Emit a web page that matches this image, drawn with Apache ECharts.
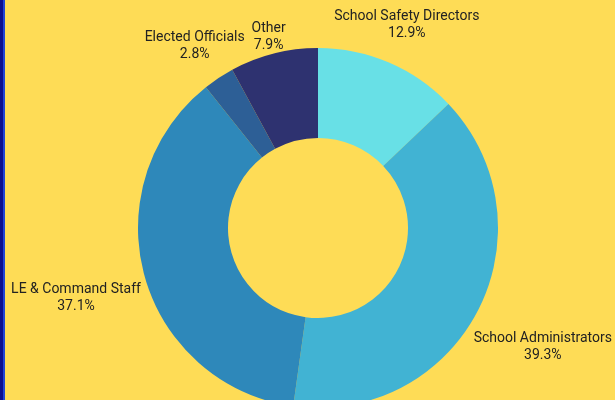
<!DOCTYPE html>
<html><head><meta charset="utf-8">
<script src="https://cdn.jsdelivr.net/npm/echarts@6/dist/echarts.min.js"></script>
<style>html,body{margin:0;padding:0;background:#FEDC56;}#c{width:615px;height:400px;}</style>
</head><body><div id="c"></div>
<script>
const categories = ['School Safety Directors', 'School Administrators', 'LE & Command Staff', 'Elected Officials', 'Other'];
const values = [12.9, 39.3, 37.1, 2.8, 7.9];
const colors = ['#68E0E6', '#41B3D3', '#2E88BA', '#2D5F96', '#2E3270'];

const CX = 318, CY = 228, R_IN = 90, R_OUT = 180;
const total = values.reduce((a, b) => a + b, 0);
const midAngles = [];
let acc = 0;
values.forEach(v => { midAngles.push((acc + v / 2) / total * 2 * Math.PI); acc += v; });

const chart = echarts.init(document.getElementById('c'));
chart.setOption({
  backgroundColor: '#FEDC56',
  animation: false,
  graphic: [
    { type: 'rect', shape: { x: 0, y: 0, width: 3, height: 400 }, style: { fill: '#0B0F8F' } },
    { type: 'rect', shape: { x: 3, y: 0, width: 2, height: 400 }, style: { fill: '#2346D6' } }
  ],
  series: [{
    type: 'pie',
    center: [CX, CY],
    radius: [R_IN, R_OUT],
    startAngle: 90,
    clockwise: true,
    avoidLabelOverlap: false,
    itemStyle: { borderWidth: 0 },
    label: {
      show: true,
      position: 'outside',
      formatter: p => p.name + '\n' + p.value.toFixed(1) + '%',
      fontFamily: 'Roboto',
      fontSize: 14,
      lineHeight: 17,
      color: '#222222',
      align: 'center'
    },
    labelLine: { show: false },
    labelLayout: function (params) {
      const a = midAngles[params.dataIndex];
      const s = Math.sin(a), c = Math.cos(a);
      const w = params.labelRect.width, h = params.labelRect.height;
      const d = R_OUT - 1 + 5 * Math.abs(s) + Math.abs(s) * w / 2 + Math.abs(c) * h / 2;
      return { x: CX + d * s, y: CY - d * c + 4, align: 'center', verticalAlign: 'middle' };
    },
    data: categories.map((n, i) => ({ name: n, value: values[i], itemStyle: { color: colors[i] } }))
  }]
});
</script></body></html>
